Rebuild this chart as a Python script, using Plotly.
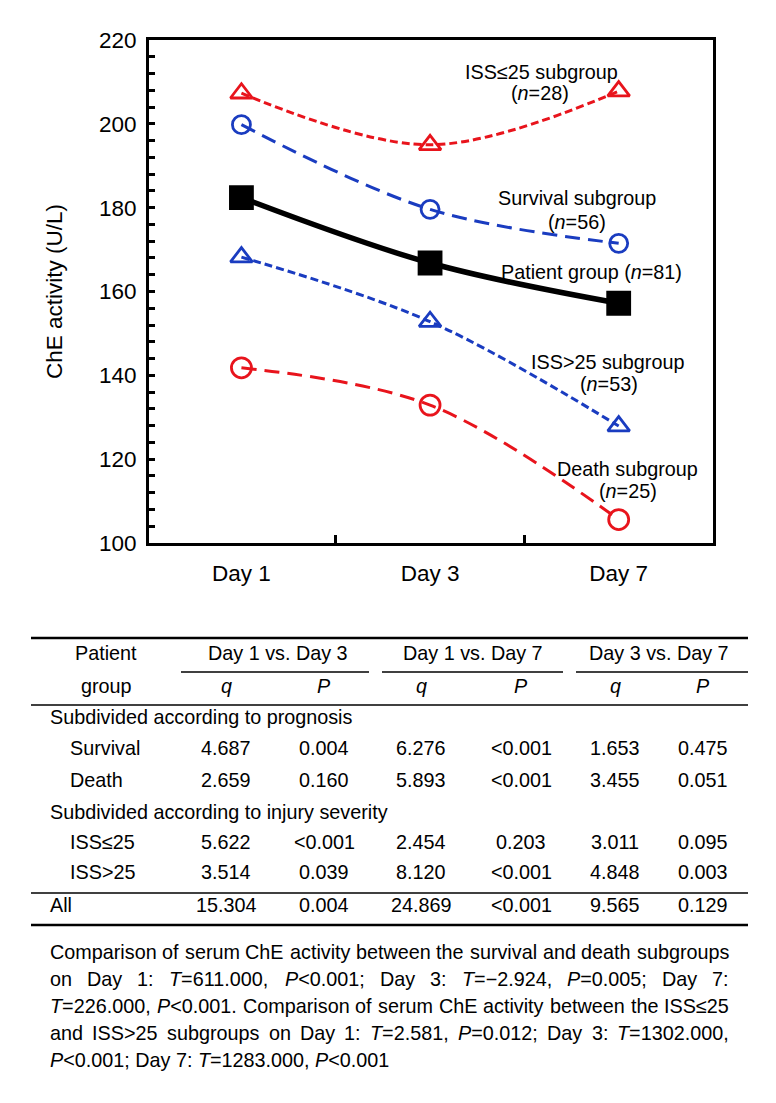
import re
import plotly.graph_objects as go

# ---------------- data ----------------
days = ["Day 1", "Day 3", "Day 7"]
x_pos = [0, 1, 2]
iss_le25 = [207.3, 195.0, 207.8]
survival = [199.8, 179.6, 171.5]
patient = [182.4, 166.8, 157.2]
iss_gt25 = [168.2, 152.8, 127.9]
death = [141.8, 132.9, 105.6]

series_labels = {
    "iss_le25": ["ISS≤25 subgroup", "(<i>n</i>=28)"],
    "survival": ["Survival subgroup", "(<i>n</i>=56)"],
    "patient": ["Patient group (<i>n</i>=81)"],
    "iss_gt25": ["ISS&gt;25 subgroup", "(<i>n</i>=53)"],
    "death": ["Death subgroup", "(<i>n</i>=25)"],
}

comparisons = ["Day 1 vs. Day 3", "Day 1 vs. Day 7", "Day 3 vs. Day 7"]
section_labels = ["Subdivided according to prognosis", "Subdivided according to injury severity"]
row_labels = ["Survival", "Death", "ISS≤25", "ISS&gt;25", "All"]
q13 = [4.687, 2.659, 5.622, 3.514, 15.304]
p13 = ["0.004", "0.160", "&lt;0.001", "0.039", "0.004"]
q17 = [6.276, 5.893, 2.454, 8.120, 24.869]
p17 = ["&lt;0.001", "&lt;0.001", "0.203", "&lt;0.001", "&lt;0.001"]
q37 = [1.653, 3.455, 3.011, 4.848, 9.565]
p37 = ["0.475", "0.051", "0.095", "0.003", "0.129"]

footnote = [
    "Comparison of serum ChE activity between the survival and death subgroups",
    "on Day 1: <i>T</i>=611.000, <i>P</i>&lt;0.001; Day 3: <i>T</i>=−2.924, <i>P</i>=0.005; Day 7:",
    "<i>T</i>=226.000, <i>P</i>&lt;0.001. Comparison of serum ChE activity between the ISS≤25",
    "and ISS&gt;25 subgroups on Day 1: <i>T</i>=2.581, <i>P</i>=0.012; Day 3: <i>T</i>=1302.000,",
    "<i>P</i>&lt;0.001; Day 7: <i>T</i>=1283.000, <i>P</i>&lt;0.001",
]

# ---------------- layout helpers ----------------
W, H = 776, 1103
OFF = 8  # default page body margin
PL, PR, PT, PB = 149, 713, 40, 543
FONT = "Arial, Liberation Sans, sans-serif"
FS = 19.8
AXFS = 22.5
RED = "#e8141c"
BLUE = "#1a3cc0"


def px(x):
    return (x - PL) / (PR - PL)


def py(y):
    return (PB - y) / (PB - PT)


ARIAL = {" ": 278, "(": 333, ")": 333, ",": 278, "-": 333, ".": 278, "/": 278, ":": 278,
         ";": 278, "<": 584, "=": 584, ">": 584, "≤": 549, "−": 584}
for c in "0123456789":
    ARIAL[c] = 556
ARIAL.update(dict(A=667, B=667, C=722, D=722, E=667, F=611, G=778, H=722, I=278, J=500, K=667,
                  L=556, M=833, N=722, O=778, P=667, Q=778, R=722, S=667, T=611, U=722, V=667,
                  W=944, X=667, Y=667, Z=611))
ARIAL.update(dict(a=556, b=556, c=500, d=556, e=556, f=278, g=556, h=556, i=222, j=222, k=500,
                  l=222, m=833, n=556, o=556, p=556, q=556, r=333, s=500, t=278, u=556, v=500,
                  w=722, x=500, y=500, z=500))


def plain(s):
    s = re.sub(r"<[^>]+>", "", s)
    return s.replace("&lt;", "<").replace("&gt;", ">")


def text_width(s, size):
    return sum(ARIAL.get(c, 556) for c in plain(s)) * size / 1000.0


fig = go.Figure()

series = [
    (iss_le25, RED, 3, "8px,4px", "triangle-up-open", 19),
    (survival, BLUE, 3, "15px,8px", "circle-open", 18),
    (patient, "black", 5.5, "solid", "square", 22),
    (iss_gt25, BLUE, 3, "8px,4px", "triangle-up-open", 19),
    (death, RED, 3, "15px,8px", "circle-open", 20),
]
for vals, col, lw, dash, sym, size in series:
    fig.add_trace(go.Scatter(
        x=x_pos, y=vals, mode="lines+markers",
        line=dict(color=col, width=lw, dash=dash, shape="spline"),
        marker=dict(symbol=sym, size=size, color=col, line=dict(color=col, width=2.8)),
        showlegend=False, hoverinfo="skip", cliponaxis=False,
    ))

ann = []


def add_text(x, y, text, xanchor="center", size=FS):
    ann.append(dict(x=px(x), y=py(y), xref="paper", yref="paper", text=text, showarrow=False,
                    xanchor=xanchor, yanchor="middle", borderpad=0,
                    font=dict(family=FONT, size=size, color="black")))


# series labels
label_pos = {
    "iss_le25": [(541, 72), (540, 93)],
    "survival": [(577, 198), (577, 222)],
    "patient": [(591, 272)],
    "iss_gt25": [(607, 362), (609, 384)],
    "death": [(627, 469), (628, 491)],
}
for key, lines in series_labels.items():
    for (x, y), t in zip(label_pos[key], lines):
        add_text(x, y, t)

# ---------------- table ----------------
shapes = []


def hline(x0, x1, y, w):
    shapes.append(dict(type="line", xref="paper", yref="paper", x0=px(x0), x1=px(x1),
                       y0=py(y), y1=py(y), line=dict(color="black", width=w)))


TL, TR = 31, 748
hline(TL, TR, 638, 2.6)
hline(181, 369, 672, 1.6)
hline(382, 563, 672, 1.6)
hline(576, TR, 672, 1.6)
hline(TL, TR, 705, 1.6)
hline(TL, TR, 893, 1.6)
hline(TL, TR, 925, 2.6)

add_text(106, 653, "Patient")
add_text(106, 686, "group")
for cx, t in zip([278, 473, 659], comparisons):
    add_text(cx, 653, t)
col_x = [226, 324, 421, 521, 615, 703]
for i, cx in enumerate(col_x):
    add_text(cx, 686, "<i>q</i>" if i % 2 == 0 else "<i>P</i>")

add_text(49, 717, section_labels[0], xanchor="left")
add_text(49, 812, section_labels[1], xanchor="left")
row_y = [748, 780, 842, 872, 905]
for r, yy in enumerate(row_y):
    add_text(49 if r == 4 else 69, yy, row_labels[r], xanchor="left")
    vals = [f"{q13[r]:.3f}", p13[r], f"{q17[r]:.3f}", p17[r], f"{q37[r]:.3f}", p37[r]]
    for cx, v in zip(col_x, vals):
        add_text(cx, yy, v)

# footnote (justified)
FL, FR = 49, 728
foot_y = [952, 979, 1006, 1033, 1060]
for li, (line, yy) in enumerate(zip(footnote, foot_y)):
    words = line.split(" ")
    if li == len(footnote) - 1:
        add_text(FL, yy, line, xanchor="left")
        continue
    widths = [text_width(w, FS) for w in words]
    gap = (FR - FL - sum(widths)) / (len(words) - 1)
    x = FL
    for w, wd in zip(words, widths):
        add_text(x, yy, w, xanchor="left")
        x += wd + gap

fig.update_layout(
    width=W, height=H,
    margin=dict(l=PL - OFF, r=W - (PR - OFF), t=PT - OFF, b=H - (PB - OFF), autoexpand=False),
    paper_bgcolor="white", plot_bgcolor="white",
    font=dict(family=FONT, size=FS, color="black"),
    annotations=ann, shapes=shapes,
    xaxis=dict(
        range=[-0.49, 2.5], tickmode="array", tickvals=x_pos, ticktext=days, ticks="",
        showline=True, linewidth=3, linecolor="black", mirror=True, showgrid=False,
        zeroline=False, tickfont=dict(family=FONT, size=AXFS, color="black"),
        ticklabelstandoff=8,
        minor=dict(tickmode="array", tickvals=[0.5, 1.5], ticks="inside", ticklen=8,
                   tickwidth=2.5, tickcolor="black", showgrid=False),
    ),
    yaxis=dict(
        range=[100, 220], dtick=20, tick0=100, ticks="inside", ticklen=6, tickwidth=2.5,
        tickcolor="black", showline=True, linewidth=3, linecolor="black", mirror=True,
        showgrid=False, zeroline=False, tickfont=dict(family=FONT, size=AXFS, color="black"),
        ticklabelstandoff=5,
        title=dict(text="ChE activity (U/L)", font=dict(family=FONT, size=AXFS, color="black"),
                   standoff=31),
        minor=dict(dtick=4, tick0=100, ticks="inside", ticklen=6, tickwidth=2.5,
                   tickcolor="black", showgrid=False),
    ),
)

fig.write_html("out.html")
